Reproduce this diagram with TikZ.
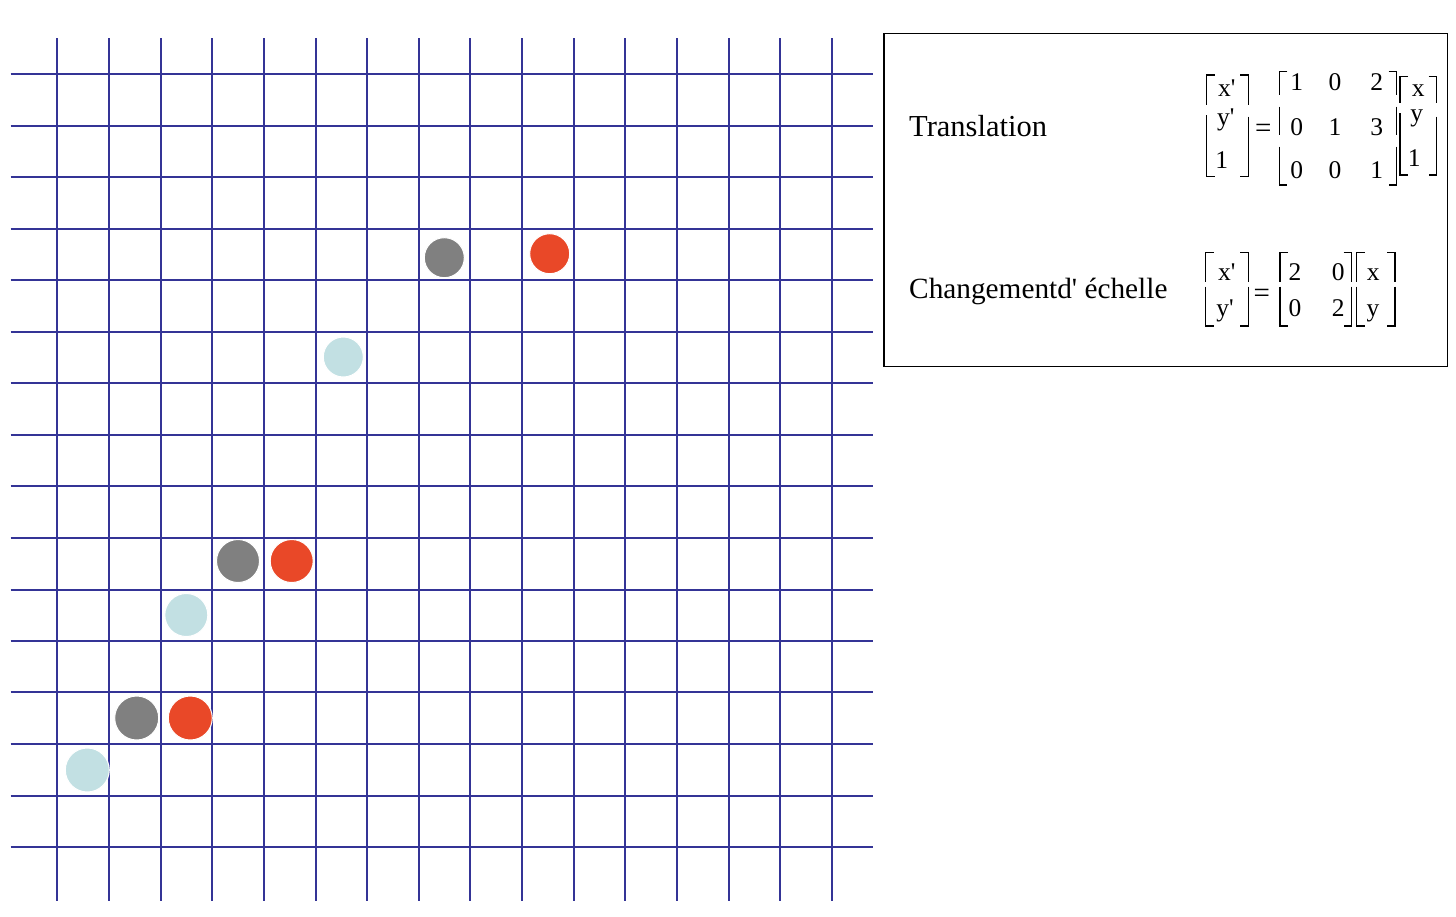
\documentclass[tikz,border=0pt]{standalone}
\usepackage{fontspec}
\setmainfont{Liberation Serif}
\definecolor{gridblue}{RGB}{52,52,150}
\definecolor{dotgray}{RGB}{128,128,128}
\definecolor{dotred}{RGB}{233,72,40}
\definecolor{dotblue}{RGB}{194,224,227}
\begin{document}
\begin{tikzpicture}[x=1pt,y=-1pt,
  gridline/.style={gridblue,line width=2pt},
  dot/.style={circle,draw=white,line width=1pt,inner sep=0pt,minimum size=#1},
  brk/.style={black,line width=1.1pt},
  lab/.style={anchor=base west,inner sep=0pt,font=\fontsize{30.5}{31}\selectfont},
  ent/.style={anchor=base,inner sep=0pt,font=\fontsize{25.5}{25}\selectfont},
  eqs/.style={anchor=base,inner sep=0pt,font=\fontsize{29}{29}\selectfont}]
\useasboundingbox[fill=white] (0,0) rectangle (1456,916);
% grid
\foreach \v in {57,109,161,212,264,316,367,419,470,522,574,625,677,729,780,832}
  \draw[gridline] (\v,38) -- (\v,901);
\foreach \h in {74,126,177,229,280,332,383,435,486,538,590,641,692,744,796,847}
  \draw[gridline] (10.7,\h) -- (873.3,\h);
% dots
\node[dot=40pt,fill=dotgray] (g1) at (444.3,257.7) {};
\node[dot=40pt,fill=dotred]  (r1) at (549.7,253.7) {};
\node[dot=40pt,fill=dotblue] (b1) at (343.3,357) {};
\node[dot=43pt,fill=dotgray] (g2) at (238,561) {};
\node[dot=43pt,fill=dotred]  (r2) at (291.7,561) {};
\node[dot=43pt,fill=dotblue] (b2) at (186.3,615) {};
\node[dot=44pt,fill=dotgray] (g3) at (136.7,718) {};
\node[dot=44pt,fill=dotred]  (r3) at (190.3,718) {};
\node[dot=44pt,fill=dotblue] (b3) at (87.3,770) {};
% box
\node[draw=black,line width=1.3pt,inner sep=0pt,minimum width=563.7pt,minimum height=333.3pt,anchor=north west] (box) at (883.3,32.7) {};
\node[lab] (tlab) at (909,136) {Translation};
\node[lab,font=\fontsize{29.3}{30}\selectfont] (slab) at (909,298.3) {Changementd\textquotesingle{} échelle};
% ---- translation
\draw[brk] (1214.7,75) -- (1206.7,75) -- (1206.7,105);
\draw[brk] (1206.7,115) -- (1206.7,176.7) -- (1214.7,176.7);
\draw[brk] (1240.3,75) -- (1248.3,75) -- (1248.3,105);
\draw[brk] (1248.3,116.7) -- (1248.3,176.7) -- (1240.3,176.7);
\node[ent] (tvx) at (1226.7,96.7) {x\textquotesingle};
\node[ent] (tvy) at (1225.7,125) {y\textquotesingle};
\node[ent] (tv1) at (1221.7,168.3) {1};
\node[eqs] (teq) at (1263.3,137) {=};
\draw[brk] (1287.3,71.7) -- (1279.3,71.7) -- (1279.3,95);
\draw[brk] (1279.3,106.7) -- (1279.3,135);
\draw[brk] (1279.3,146.7) -- (1279.3,185) -- (1287.3,185);
\draw[brk] (1388.7,71.7) -- (1396.7,71.7) -- (1396.7,95);
\draw[brk] (1396.7,106.7) -- (1396.7,135);
\draw[brk] (1396.7,146.7) -- (1396.7,185) -- (1388.7,185);
\node[ent] (t11) at (1296.7,90) {1};
\node[ent] (t12) at (1335,90) {0};
\node[ent] (t13) at (1376.7,90) {2};
\node[ent] (t21) at (1296.7,135) {0};
\node[ent] (t22) at (1335,135) {1};
\node[ent] (t23) at (1376.7,135) {3};
\node[ent] (t31) at (1296.7,178.3) {0};
\node[ent] (t32) at (1335,178.3) {0};
\node[ent] (t33) at (1376.7,178.3) {1};
\draw[brk] (1408,76.7) -- (1400,76.7) -- (1400,103.3);
\draw[brk] (1400,113) -- (1400,175) -- (1408,175);
\draw[brk] (1428.7,76.7) -- (1436.7,76.7) -- (1436.7,103.3);
\draw[brk] (1436.7,116.7) -- (1436.7,175) -- (1428.7,175);
\node[ent] (trx) at (1418.3,96.7) {x};
\node[ent] (try) at (1416.7,121.7) {y};
\node[ent] (tr1) at (1414.3,166.7) {1};
% ---- scaling
\draw[brk] (1213.7,252.3) -- (1205.7,252.3) -- (1205.7,281.7);
\draw[brk] (1205.7,286.7) -- (1205.7,326) -- (1213.7,326);
\draw[brk] (1240.3,252.3) -- (1248.3,252.3) -- (1248.3,281.7);
\draw[brk] (1248.3,286.7) -- (1248.3,326) -- (1240.3,326);
\node[ent] (svx) at (1226.7,280) {x\textquotesingle};
\node[ent] (svy) at (1225,316.7) {y\textquotesingle};
\node[eqs] (seq) at (1261.7,302) {=};
\draw[brk] (1288,252.3) -- (1280,252.3) -- (1280,281.7);
\draw[brk] (1280,286.7) -- (1280,326) -- (1288,326);
\draw[brk] (1343.7,252.3) -- (1351.7,252.3) -- (1351.7,281.7);
\draw[brk] (1351.7,286.7) -- (1351.7,326) -- (1343.7,326);
\node[ent] (s11) at (1295,280) {2};
\node[ent] (s12) at (1338.3,280) {0};
\node[ent] (s21) at (1295,316.7) {0};
\node[ent] (s22) at (1338.3,316.7) {2};
\draw[brk] (1364.7,252.3) -- (1356.7,252.3) -- (1356.7,281.7);
\draw[brk] (1356.7,286.7) -- (1356.7,326) -- (1364.7,326);
\draw[brk] (1387,252.3) -- (1395,252.3) -- (1395,281.7);
\draw[brk] (1395,286.7) -- (1395,326) -- (1387,326);
\node[ent] (srx) at (1373.3,280) {x};
\node[ent] (sry) at (1373,316.7) {y};
\end{tikzpicture}
\end{document}
